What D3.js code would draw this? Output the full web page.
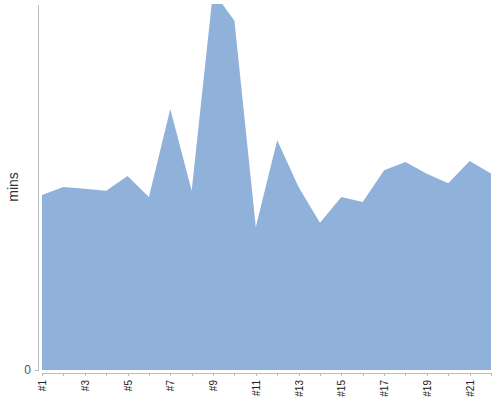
<!DOCTYPE html>
<html>
<head>
<meta charset="utf-8">
<script src="https://cdn.jsdelivr.net/npm/d3@7"></script>
<style>
	body { margin: 0; background: #fff; }
	text { font-family: "Liberation Sans", Arial, sans-serif; }
	.axis path, .axis line { stroke: #bbb; shape-rendering: crispEdges; }
</style>
</head>
<body>
<div id="chart"></div>
<script>
//Dados do gráfico
var labels = ["#1","#2","#3","#4","#5","#6","#7","#8","#9","#10","#11",
	"#12","#13","#14","#15","#16","#17","#18","#19","#20","#21","#22"];
var mins = [47.8, 50.0, 49.5, 49.0, 53.0, 47.3, 71.3, 49.0, 103.5, 95.4, 39.1,
	62.8, 50.0, 40.2, 47.3, 45.9, 54.6, 56.8, 53.6, 51.0, 57.1, 53.7];
var yTicks = [0];
var yMax = 100;

(function () {
	'use strict';
	var width = 500, height = 400;
	var left = 42, right = 491, top = 4, bottom = 370;

	var svg = d3.select("#chart").append("svg")
		.attr("width", width)
		.attr("height", height);

	//Escalas
	var x = d3.scalePoint()
		.domain(labels)
		.range([left, right]);
	var y = d3.scaleLinear()
		.domain([0, yMax])
		.range([bottom, top]);

	//Recorte (o pico passa do topo)
	svg.append("clipPath")
		.attr("id", "clip")
		.append("rect")
		.attr("x", left)
		.attr("y", top)
		.attr("width", right - left)
		.attr("height", bottom - top);

	//Área
	var area = d3.area()
		.x(function(d, i) { return x(labels[i]); })
		.y0(y(0))
		.y1(function(d) { return y(d); });
	svg.append("path")
		.datum(mins)
		.attr("clip-path", "url(#clip)")
		.attr("fill", "#90b2da")
		.attr("d", area);

	//Eixo Y
	var gy = svg.append("g")
		.attr("class", "axis")
		.attr("transform", "translate(38,0)")
		.call(d3.axisLeft(y).tickValues(yTicks).tickSize(3).tickSizeOuter(0).tickPadding(4));
	gy.selectAll("text")
		.attr("fill", "#555")
		.style("font-size", "12px");

	//Eixo X
	var gx = svg.append("g")
		.attr("class", "axis")
		.attr("transform", "translate(0,373)")
		.call(d3.axisBottom(x).tickSize(3).tickSizeOuter(0)
			.tickFormat(function(d, i) { return i % 2 === 0 ? d : ""; }));
	gx.selectAll("text")
		.attr("fill", "#222")
		.style("font-size", "10px")
		.attr("text-anchor", "end")
		.attr("transform", "rotate(-90)")
		.attr("x", -7)
		.attr("y", 0)
		.attr("dy", "0.35em");

	//Título do eixo Y
	svg.append("text")
		.attr("transform", "translate(18,187) rotate(-90)")
		.attr("text-anchor", "middle")
		.attr("fill", "#333")
		.style("font-size", "14px")
		.text("mins");
}());
</script>
</body>
</html>
